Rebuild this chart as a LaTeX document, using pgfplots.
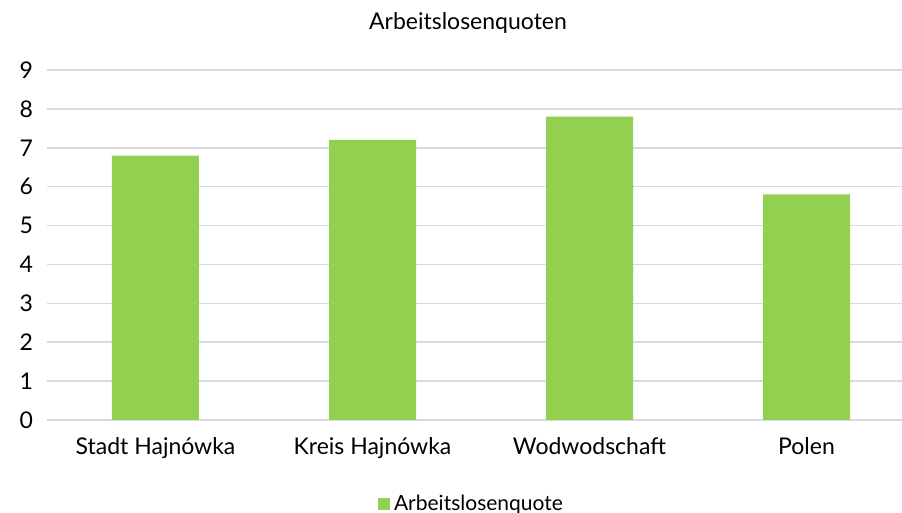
\documentclass[border=0pt]{standalone}
\usepackage{pgfplots}
\pgfplotsset{compat=1.18}
\usepackage{fontspec}
\setmainfont{Lato}
\definecolor{barg}{HTML}{92D050}
\definecolor{gridc}{HTML}{D9D9E6}
\begin{document}
\fontsize{11.5}{13}\selectfont
\begin{tikzpicture}
\path[use as bounding box] (-23.5pt,-46.5pt) rectangle (427.5pt,210pt);
\begin{axis}[
  at={(0,0)}, anchor=south west,
  scale only axis, width=427.5pt, height=175pt,
  xmin=-0.5, xmax=3.44, ymin=0, ymax=9,
  ybar, bar width=43.5pt,
  xtick={0,1,2,3},
  xticklabels={Stadt Hajnówka,Kreis Hajnówka,Wodwodschaft,Polen},
  ytick={0,1,...,9},
  ymajorgrids, grid style={gridc, line width=0.8pt},
  axis line style={draw=none},
  major tick length=0pt,
  xticklabel style={yshift=-5pt, font=\fontsize{11.5}{13}\selectfont},
  yticklabel style={xshift=-3pt, font=\fontsize{11.5}{13}\selectfont},
  /pgf/number format/assume math mode=true,
  legend style={draw=none, at={(0.5,0)}, anchor=center, xshift=-1pt, yshift=-42pt, font=\fontsize{10.5}{12}\selectfont, inner sep=0pt},
  legend image code/.code={\fill[barg] (0cm,-0.11cm) rectangle (0.21cm,0.11cm);},
  clip=false,
]
\addplot[fill=barg, draw=none, bar shift=0pt] coordinates {(0,6.8) (1,7.2) (2,7.8) (3,5.8)};
\addlegendentry{Arbeitslosenquote}
\end{axis}
\node at (210.5pt,198.5pt) {\fontsize{11.5}{13}\selectfont Arbeitslosenquoten};
\end{tikzpicture}
\end{document}
